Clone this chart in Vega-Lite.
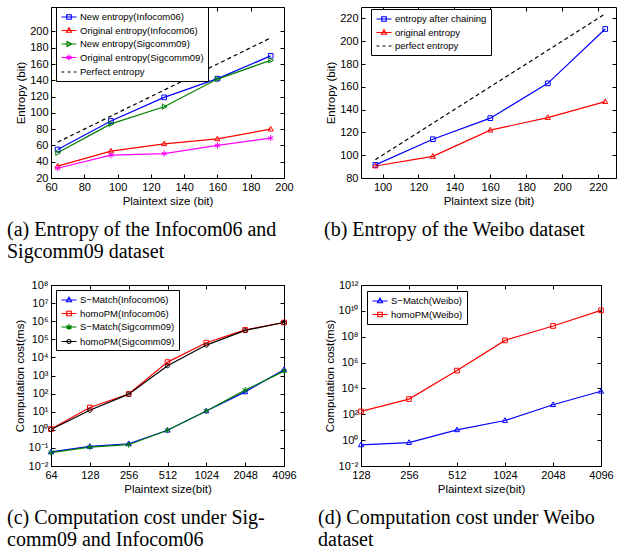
{
  "$schema": "https://vega.github.io/schema/vega-lite/v6.json",
  "padding": {"left": 6, "top": 6, "right": 4, "bottom": 4},
  "background": "white",
  "datasets": {
    "a": [
      {"x": 64, "y": 55, "s": "New entropy(Infocom06)"},
      {"x": 96, "y": 90, "s": "New entropy(Infocom06)"},
      {"x": 128, "y": 119, "s": "New entropy(Infocom06)"},
      {"x": 160, "y": 142, "s": "New entropy(Infocom06)"},
      {"x": 192, "y": 170, "s": "New entropy(Infocom06)"},
      {"x": 64, "y": 34.5, "s": "Original entropy(Infocom06)"},
      {"x": 96, "y": 53, "s": "Original entropy(Infocom06)"},
      {"x": 128, "y": 62, "s": "Original entropy(Infocom06)"},
      {"x": 160, "y": 68, "s": "Original entropy(Infocom06)"},
      {"x": 192, "y": 80, "s": "Original entropy(Infocom06)"},
      {"x": 64, "y": 51, "s": "New entropy(Sigcomm09)"},
      {"x": 96, "y": 86.5, "s": "New entropy(Sigcomm09)"},
      {"x": 128, "y": 107.5, "s": "New entropy(Sigcomm09)"},
      {"x": 160, "y": 141.5, "s": "New entropy(Sigcomm09)"},
      {"x": 192, "y": 164.5, "s": "New entropy(Sigcomm09)"},
      {"x": 64, "y": 32, "s": "Original entropy(Sigcomm09)"},
      {"x": 96, "y": 48, "s": "Original entropy(Sigcomm09)"},
      {"x": 128, "y": 50, "s": "Original entropy(Sigcomm09)"},
      {"x": 160, "y": 60, "s": "Original entropy(Sigcomm09)"},
      {"x": 192, "y": 69, "s": "Original entropy(Sigcomm09)"},
      {"x": 64, "y": 64, "s": "Perfect entropy"},
      {"x": 96, "y": 96, "s": "Perfect entropy"},
      {"x": 128, "y": 128, "s": "Perfect entropy"},
      {"x": 160, "y": 160, "s": "Perfect entropy"},
      {"x": 192, "y": 192, "s": "Perfect entropy"}
    ],
    "b": [
      {"x": 96, "y": 91.5, "s": "entropy after chaining"},
      {"x": 128, "y": 114, "s": "entropy after chaining"},
      {"x": 160, "y": 132.5, "s": "entropy after chaining"},
      {"x": 192, "y": 163, "s": "entropy after chaining"},
      {"x": 224, "y": 210.7, "s": "entropy after chaining"},
      {"x": 96, "y": 90.5, "s": "original entropy"},
      {"x": 128, "y": 99, "s": "original entropy"},
      {"x": 160, "y": 122, "s": "original entropy"},
      {"x": 192, "y": 133, "s": "original entropy"},
      {"x": 224, "y": 147, "s": "original entropy"},
      {"x": 96, "y": 96, "s": "perfect entropy"},
      {"x": 128, "y": 128, "s": "perfect entropy"},
      {"x": 160, "y": 160, "s": "perfect entropy"},
      {"x": 192, "y": 192, "s": "perfect entropy"},
      {"x": 224, "y": 224, "s": "perfect entropy"}
    ],
    "c": [
      {"x": 64, "y": 0.06, "s": "S−Match(Infocom06)"},
      {"x": 128, "y": 0.12, "s": "S−Match(Infocom06)"},
      {"x": 256, "y": 0.17, "s": "S−Match(Infocom06)"},
      {"x": 512, "y": 0.95, "s": "S−Match(Infocom06)"},
      {"x": 1024, "y": 11, "s": "S−Match(Infocom06)"},
      {"x": 2048, "y": 125, "s": "S−Match(Infocom06)"},
      {"x": 4096, "y": 2100, "s": "S−Match(Infocom06)"},
      {"x": 64, "y": 1.1, "s": "homoPM(Infocom06)"},
      {"x": 128, "y": 17, "s": "homoPM(Infocom06)"},
      {"x": 256, "y": 95, "s": "homoPM(Infocom06)"},
      {"x": 512, "y": 5500, "s": "homoPM(Infocom06)"},
      {"x": 1024, "y": 65000, "s": "homoPM(Infocom06)"},
      {"x": 2048, "y": 330000, "s": "homoPM(Infocom06)"},
      {"x": 4096, "y": 850000, "s": "homoPM(Infocom06)"},
      {"x": 64, "y": 0.055, "s": "S−Match(Sigcomm09)"},
      {"x": 128, "y": 0.11, "s": "S−Match(Sigcomm09)"},
      {"x": 256, "y": 0.15, "s": "S−Match(Sigcomm09)"},
      {"x": 512, "y": 0.95, "s": "S−Match(Sigcomm09)"},
      {"x": 1024, "y": 11, "s": "S−Match(Sigcomm09)"},
      {"x": 2048, "y": 155, "s": "S−Match(Sigcomm09)"},
      {"x": 4096, "y": 1750, "s": "S−Match(Sigcomm09)"},
      {"x": 64, "y": 1.05, "s": "homoPM(Sigcomm09)"},
      {"x": 128, "y": 12, "s": "homoPM(Sigcomm09)"},
      {"x": 256, "y": 93, "s": "homoPM(Sigcomm09)"},
      {"x": 512, "y": 3500, "s": "homoPM(Sigcomm09)"},
      {"x": 1024, "y": 48000, "s": "homoPM(Sigcomm09)"},
      {"x": 2048, "y": 310000, "s": "homoPM(Sigcomm09)"},
      {"x": 4096, "y": 850000, "s": "homoPM(Sigcomm09)"}
    ],
    "d": [
      {"x": 128, "y": 0.43, "s": "S−Match(Weibo)"},
      {"x": 256, "y": 0.65, "s": "S−Match(Weibo)"},
      {"x": 512, "y": 6.3, "s": "S−Match(Weibo)"},
      {"x": 1024, "y": 33, "s": "S−Match(Weibo)"},
      {"x": 2048, "y": 550, "s": "S−Match(Weibo)"},
      {"x": 4096, "y": 6000, "s": "S−Match(Weibo)"},
      {"x": 128, "y": 166, "s": "homoPM(Weibo)"},
      {"x": 256, "y": 1500, "s": "homoPM(Weibo)"},
      {"x": 512, "y": 240000, "s": "homoPM(Weibo)"},
      {"x": 1024, "y": 52000000, "s": "homoPM(Weibo)"},
      {"x": 2048, "y": 680000000, "s": "homoPM(Weibo)"},
      {"x": 4096, "y": 11000000000, "s": "homoPM(Weibo)"}
    ]
  },
  "columns": 2,
  "spacing": {"column": 77, "row": 107},
  "bounds": "flush",
  "concat": [
    {
      "data": {"name": "a"},
      "width": 233, "height": 171,
      "title": {"text": ["(a) Entropy of the Infocom06 and", "Sigcomm09 dataset"], "dx": -44},
      "layer": [
        {
          "transform": [{"filter": "datum.s != 'Perfect entropy'"}],
          "mark": {"type": "line", "strokeWidth": 1.2},
          "encoding": {
            "x": {"field": "x", "type": "quantitative", "scale": {"domain": [60, 200], "nice": false, "zero": false}, "axis": {"orient": "bottom", "title": "Plaintext size (bit)", "values": [60, 80, 100, 120, 140, 160, 180, 200]}},
            "y": {"field": "y", "type": "quantitative", "scale": {"domain": [20, 230], "nice": false, "zero": false}, "axis": {"orient": "left", "title": "Entropy (bit)", "values": [20, 40, 60, 80, 100, 120, 140, 160, 180, 200]}},
            "color": {"field": "s", "type": "nominal", "legend": null, "scale": {"domain": ["New entropy(Infocom06)", "Original entropy(Infocom06)", "New entropy(Sigcomm09)", "Original entropy(Sigcomm09)", "Perfect entropy"], "range": ["#0000ff", "#ff0000", "#008000", "#ff00ff", "#000000"]}}
          }
        },
        {
          "transform": [{"filter": "datum.s == 'Perfect entropy'"}],
          "mark": {"type": "line", "strokeWidth": 1.2, "strokeDash": [4, 3], "color": "black"},
          "encoding": {"x": {"field": "x", "type": "quantitative", "axis": null}, "y": {"field": "y", "type": "quantitative", "axis": null}}
        },
        {
          "transform": [{"filter": "datum.s != 'Perfect entropy'"}],
          "mark": {"type": "point", "filled": false, "size": 22, "strokeWidth": 1, "opacity": 1},
          "encoding": {
            "x": {"field": "x", "type": "quantitative", "axis": {"orient": "top", "labels": false, "title": null, "values": [60, 80, 100, 120, 140, 160, 180, 200]}},
            "y": {"field": "y", "type": "quantitative", "axis": {"orient": "right", "labels": false, "title": null, "values": [20, 40, 60, 80, 100, 120, 140, 160, 180, 200]}},
            "color": {"field": "s", "type": "nominal", "legend": null, "scale": {"domain": ["New entropy(Infocom06)", "Original entropy(Infocom06)", "New entropy(Sigcomm09)", "Original entropy(Sigcomm09)", "Perfect entropy"], "range": ["#0000ff", "#ff0000", "#008000", "#ff00ff", "#000000"]}},
            "shape": {"field": "s", "type": "nominal", "legend": null, "scale": {"domain": ["New entropy(Infocom06)", "Original entropy(Infocom06)", "New entropy(Sigcomm09)", "Original entropy(Sigcomm09)", "Perfect entropy"], "range": ["M-1,-1H1V1H-1Z", "M0,-1.2L1.1,0.8H-1.1Z", "M-0.8,-1.1L1.2,0L-0.8,1.1Z", "M0,-1.3V1.3M-1.1,-0.65L1.1,0.65M-1.1,0.65L1.1,-0.65", "M-0.1,0H0.1"]}}
          }
        },
        {
          "mark": {"type": "point", "filled": false, "opacity": 0},
          "encoding": {
            "x": {"field": "x", "type": "quantitative", "axis": null},
            "y": {"field": "y", "type": "quantitative", "axis": null},
            "color": {"field": "s", "type": "nominal", "legend": {"title": null, "orient": "none", "legendX": 5, "legendY": 0}, "scale": {"domain": ["New entropy(Infocom06)", "Original entropy(Infocom06)", "New entropy(Sigcomm09)", "Original entropy(Sigcomm09)", "Perfect entropy"], "range": ["#0000ff", "#ff0000", "#008000", "#ff00ff", "#000000"]}},
            "shape": {"field": "s", "type": "nominal", "legend": {"title": null, "orient": "none", "legendX": 5, "legendY": 0}, "scale": {"domain": ["New entropy(Infocom06)", "Original entropy(Infocom06)", "New entropy(Sigcomm09)", "Original entropy(Sigcomm09)", "Perfect entropy"], "range": ["M-1.5,0H1.5M-0.45,-0.45H0.45V0.45H-0.45Z", "M-1.5,0H1.5M0,-0.55L0.5,0.35H-0.5Z", "M-1.5,0H1.5M-0.38,-0.5L0.55,0L-0.38,0.5Z", "M-1.5,0H1.5M0,-0.6V0.6M-0.52,-0.3L0.52,0.3M-0.52,0.3L0.52,-0.3", "M-1.5,0H-0.95M-0.3,0H0.3M0.95,0H1.5"]}}
          }
        }
      ],
      "resolve": {"scale": {"color": "independent", "shape": "independent"}}
    },
    {
      "data": {"name": "b"},
      "width": 255, "height": 171,
      "title": {"text": ["(b) Entropy of the Weibo dataset"], "dx": -37},
      "layer": [
        {
          "transform": [{"filter": "datum.s != 'perfect entropy'"}],
          "mark": {"type": "line", "strokeWidth": 1.2},
          "encoding": {
            "x": {"field": "x", "type": "quantitative", "scale": {"domain": [88, 230], "nice": false, "zero": false}, "axis": {"orient": "bottom", "title": "Plaintext size (bit)", "values": [100, 120, 140, 160, 180, 200, 220]}},
            "y": {"field": "y", "type": "quantitative", "scale": {"domain": [80, 230], "nice": false, "zero": false}, "axis": {"orient": "left", "title": "Entropy (bit)", "values": [80, 100, 120, 140, 160, 180, 200, 220]}},
            "color": {"field": "s", "type": "nominal", "legend": null, "scale": {"domain": ["entropy after chaining", "original entropy", "perfect entropy"], "range": ["#0000ff", "#ff0000", "#000000"]}}
          }
        },
        {
          "transform": [{"filter": "datum.s == 'perfect entropy'"}],
          "mark": {"type": "line", "strokeWidth": 1.2, "strokeDash": [4, 3], "color": "black"},
          "encoding": {"x": {"field": "x", "type": "quantitative", "axis": null}, "y": {"field": "y", "type": "quantitative", "axis": null}}
        },
        {
          "transform": [{"filter": "datum.s != 'perfect entropy'"}],
          "mark": {"type": "point", "filled": false, "size": 22, "strokeWidth": 1, "opacity": 1},
          "encoding": {
            "x": {"field": "x", "type": "quantitative", "axis": {"orient": "top", "labels": false, "title": null, "values": [100, 120, 140, 160, 180, 200, 220]}},
            "y": {"field": "y", "type": "quantitative", "axis": {"orient": "right", "labels": false, "title": null, "values": [80, 100, 120, 140, 160, 180, 200, 220]}},
            "color": {"field": "s", "type": "nominal", "legend": null, "scale": {"domain": ["entropy after chaining", "original entropy", "perfect entropy"], "range": ["#0000ff", "#ff0000", "#000000"]}},
            "shape": {"field": "s", "type": "nominal", "legend": null, "scale": {"domain": ["entropy after chaining", "original entropy", "perfect entropy"], "range": ["M-1,-1H1V1H-1Z", "M0,-1.2L1.1,0.8H-1.1Z", "M-0.1,0H0.1"]}}
          }
        },
        {
          "mark": {"type": "point", "filled": false, "opacity": 0},
          "encoding": {
            "x": {"field": "x", "type": "quantitative", "axis": null},
            "y": {"field": "y", "type": "quantitative", "axis": null},
            "color": {"field": "s", "type": "nominal", "legend": {"title": null, "orient": "none", "legendX": 10, "legendY": 2}, "scale": {"domain": ["entropy after chaining", "original entropy", "perfect entropy"], "range": ["#0000ff", "#ff0000", "#000000"]}},
            "shape": {"field": "s", "type": "nominal", "legend": {"title": null, "orient": "none", "legendX": 10, "legendY": 2}, "scale": {"domain": ["entropy after chaining", "original entropy", "perfect entropy"], "range": ["M-1.5,0H1.5M-0.45,-0.45H0.45V0.45H-0.45Z", "M-1.5,0H1.5M0,-0.55L0.5,0.35H-0.5Z", "M-1.5,0H-0.95M-0.3,0H0.3M0.95,0H1.5"]}}
          }
        }
      ],
      "resolve": {"scale": {"color": "independent", "shape": "independent"}}
    },
    {
      "data": {"name": "c"},
      "width": 233, "height": 181,
      "title": {"text": ["(c) Computation cost under Sig-", "comm09 and Infocom06"], "dx": -44},
      "layer": [
        {
          "mark": {"type": "line", "strokeWidth": 1.2},
          "encoding": {
            "x": {"field": "x", "type": "quantitative", "scale": {"type": "log", "base": 2, "domain": [64, 4096], "nice": false}, "axis": {"orient": "bottom", "title": "Plaintext size(bit)", "values": [64, 128, 256, 512, 1024, 2048, 4096], "format": "d"}},
            "y": {"field": "y", "type": "quantitative", "scale": {"type": "log", "domain": [0.01, 100000000], "nice": false}, "axis": {"orient": "left", "title": "Computation cost(ms)", "values": [0.01, 0.1, 1, 10, 100, 1000, 10000, 100000, 1000000, 10000000, 100000000], "labelExpr": "'10' + (datum.value < 1 ? '⁻' : '') + (abs(round(log(datum.value)/LN10)) >= 10 ? substring('⁰¹²³⁴⁵⁶⁷⁸⁹', floor(abs(round(log(datum.value)/LN10))/10), floor(abs(round(log(datum.value)/LN10))/10) + 1) : '') + substring('⁰¹²³⁴⁵⁶⁷⁸⁹', abs(round(log(datum.value)/LN10)) % 10, abs(round(log(datum.value)/LN10)) % 10 + 1)"}},
            "color": {"field": "s", "type": "nominal", "legend": null, "scale": {"domain": ["S−Match(Infocom06)", "homoPM(Infocom06)", "S−Match(Sigcomm09)", "homoPM(Sigcomm09)"], "range": ["#0000ff", "#ff0000", "#008000", "#000000"]}}
          }
        },
        {
          "mark": {"type": "point", "filled": false, "size": 22, "strokeWidth": 1, "opacity": 1},
          "encoding": {
            "x": {"field": "x", "type": "quantitative", "axis": {"orient": "top", "labels": false, "title": null, "values": [64, 128, 256, 512, 1024, 2048, 4096]}},
            "y": {"field": "y", "type": "quantitative", "axis": {"orient": "right", "labels": false, "title": null, "values": [0.01, 0.1, 1, 10, 100, 1000, 10000, 100000, 1000000, 10000000, 100000000]}},
            "color": {"field": "s", "type": "nominal", "legend": null, "scale": {"domain": ["S−Match(Infocom06)", "homoPM(Infocom06)", "S−Match(Sigcomm09)", "homoPM(Sigcomm09)"], "range": ["#0000ff", "#ff0000", "#008000", "#000000"]}},
            "shape": {"field": "s", "type": "nominal", "legend": null, "scale": {"domain": ["S−Match(Infocom06)", "homoPM(Infocom06)", "S−Match(Sigcomm09)", "homoPM(Sigcomm09)"], "range": ["M0,-1.2L1.1,0.8H-1.1Z", "M-1,-1H1V1H-1Z", "M0,-1.3V1.3M-1.1,-0.65L1.1,0.65M-1.1,0.65L1.1,-0.65", "M0.9,0A0.9,0.9 0 1,1 -0.9,0A0.9,0.9 0 1,1 0.9,0Z"]}}
          }
        },
        {
          "mark": {"type": "point", "filled": false, "opacity": 0},
          "encoding": {
            "x": {"field": "x", "type": "quantitative", "axis": null},
            "y": {"field": "y", "type": "quantitative", "axis": null},
            "color": {"field": "s", "type": "nominal", "legend": {"title": null, "orient": "none", "legendX": 5, "legendY": 5}, "scale": {"domain": ["S−Match(Infocom06)", "homoPM(Infocom06)", "S−Match(Sigcomm09)", "homoPM(Sigcomm09)"], "range": ["#0000ff", "#ff0000", "#008000", "#000000"]}},
            "shape": {"field": "s", "type": "nominal", "legend": {"title": null, "orient": "none", "legendX": 5, "legendY": 5}, "scale": {"domain": ["S−Match(Infocom06)", "homoPM(Infocom06)", "S−Match(Sigcomm09)", "homoPM(Sigcomm09)"], "range": ["M-1.5,0H1.5M0,-0.55L0.5,0.35H-0.5Z", "M-1.5,0H1.5M-0.45,-0.45H0.45V0.45H-0.45Z", "M-1.5,0H1.5M0,-0.6V0.6M-0.52,-0.3L0.52,0.3M-0.52,0.3L0.52,-0.3", "M-1.5,0H1.5M0.4,0A0.4,0.4 0 1,1 -0.4,0A0.4,0.4 0 1,1 0.4,0Z"]}}
          }
        }
      ],
      "resolve": {"scale": {"color": "independent", "shape": "independent"}}
    },
    {
      "data": {"name": "d"},
      "width": 240, "height": 181,
      "title": {"text": ["(d) Computation cost under Weibo", "dataset"], "dx": -43},
      "layer": [
        {
          "mark": {"type": "line", "strokeWidth": 1.2},
          "encoding": {
            "x": {"field": "x", "type": "quantitative", "scale": {"type": "log", "base": 2, "domain": [128, 4096], "nice": false}, "axis": {"orient": "bottom", "title": "Plaintext size(bit)", "values": [128, 256, 512, 1024, 2048, 4096], "format": "d"}},
            "y": {"field": "y", "type": "quantitative", "scale": {"type": "log", "domain": [0.01, 1000000000000], "nice": false}, "axis": {"orient": "left", "title": "Computation cost(ms)", "values": [0.01, 1, 100, 10000, 1000000, 100000000, 10000000000, 1000000000000], "labelExpr": "'10' + (datum.value < 1 ? '⁻' : '') + (abs(round(log(datum.value)/LN10)) >= 10 ? substring('⁰¹²³⁴⁵⁶⁷⁸⁹', floor(abs(round(log(datum.value)/LN10))/10), floor(abs(round(log(datum.value)/LN10))/10) + 1) : '') + substring('⁰¹²³⁴⁵⁶⁷⁸⁹', abs(round(log(datum.value)/LN10)) % 10, abs(round(log(datum.value)/LN10)) % 10 + 1)"}},
            "color": {"field": "s", "type": "nominal", "legend": null, "scale": {"domain": ["S−Match(Weibo)", "homoPM(Weibo)"], "range": ["#0000ff", "#ff0000"]}}
          }
        },
        {
          "mark": {"type": "point", "filled": false, "size": 22, "strokeWidth": 1, "opacity": 1},
          "encoding": {
            "x": {"field": "x", "type": "quantitative", "axis": {"orient": "top", "labels": false, "title": null, "values": [128, 256, 512, 1024, 2048, 4096]}},
            "y": {"field": "y", "type": "quantitative", "axis": {"orient": "right", "labels": false, "title": null, "values": [0.01, 1, 100, 10000, 1000000, 100000000, 10000000000, 1000000000000]}},
            "color": {"field": "s", "type": "nominal", "legend": null, "scale": {"domain": ["S−Match(Weibo)", "homoPM(Weibo)"], "range": ["#0000ff", "#ff0000"]}},
            "shape": {"field": "s", "type": "nominal", "legend": null, "scale": {"domain": ["S−Match(Weibo)", "homoPM(Weibo)"], "range": ["M0,-1.2L1.1,0.8H-1.1Z", "M-1,-1H1V1H-1Z"]}}
          }
        },
        {
          "mark": {"type": "point", "filled": false, "opacity": 0},
          "encoding": {
            "x": {"field": "x", "type": "quantitative", "axis": null},
            "y": {"field": "y", "type": "quantitative", "axis": null},
            "color": {"field": "s", "type": "nominal", "legend": {"title": null, "orient": "none", "legendX": 6, "legendY": 6}, "scale": {"domain": ["S−Match(Weibo)", "homoPM(Weibo)"], "range": ["#0000ff", "#ff0000"]}},
            "shape": {"field": "s", "type": "nominal", "legend": {"title": null, "orient": "none", "legendX": 6, "legendY": 6}, "scale": {"domain": ["S−Match(Weibo)", "homoPM(Weibo)"], "range": ["M-1.5,0H1.5M0,-0.55L0.5,0.35H-0.5Z", "M-1.5,0H1.5M-0.45,-0.45H0.45V0.45H-0.45Z"]}}
          }
        }
      ],
      "resolve": {"scale": {"color": "independent", "shape": "independent"}}
    }
  ],
  "config": {
    "font": "Liberation Sans",
    "view": {"stroke": "black", "strokeWidth": 1},
    "axis": {
      "domain": false, "grid": false, "ticks": true, "tickColor": "black", "tickSize": -4, "tickWidth": 1,
      "labelColor": "black", "labelFontSize": 11, "labelFont": "Liberation Sans", "labelFlush": false, "labelOverlap": false, "labelPadding": 7,
      "titleColor": "black", "titleFontSize": 11.5, "titleFontWeight": "normal", "titleFont": "Liberation Sans", "titlePadding": 3
    },
    "legend": {
      "fillColor": "white", "strokeColor": "black", "padding": 4, "cornerRadius": 0,
      "symbolSize": 100, "symbolOffset": 3, "labelOffset": 5, "symbolStrokeWidth": 1.2, "symbolOpacity": 1,
      "labelFontSize": 9.5, "labelColor": "black", "labelFont": "Liberation Sans", "rowPadding": 2.5, "labelLimit": 300
    },
    "title": {
      "font": "Liberation Serif", "fontSize": 20, "fontWeight": "normal", "color": "black",
      "orient": "bottom", "anchor": "start", "frame": "group", "lineHeight": 22, "offset": 13
    }
  }
}
